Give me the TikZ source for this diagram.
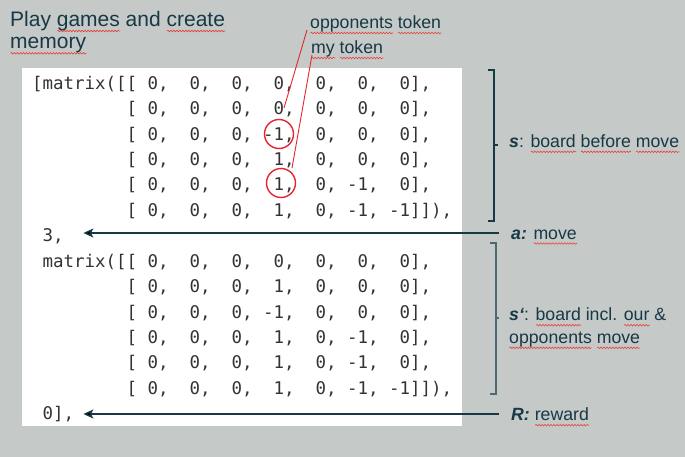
\documentclass[tikz,border=0pt]{standalone}
\usepackage{fontspec}
\setmainfont{Liberation Sans}
\newfontfamily\codefont{DejaVu Sans Mono}[WordSpace={1,0,0}]
\usetikzlibrary{arrows.meta,calc,decorations.pathmorphing}

\definecolor{bg}{HTML}{C5CAC8}
\definecolor{ink}{HTML}{173845}
\definecolor{codeink}{HTML}{333333}
\definecolor{mark}{HTML}{E5252F}
\definecolor{squig}{HTML}{E8413C}
\definecolor{bracetwo}{HTML}{4F6973}

% red wavy underline for flagged words
\newlength\spellwd
\newcommand\spell[1]{\settowidth\spellwd{#1}%
  \rlap{\tikz[x=1pt,y=1pt,baseline=0pt]
    \draw[squig, line width=0.6pt, decorate,
          decoration={snake, amplitude=0.8pt, segment length=3pt}]
      (0pt,-4.5pt) -- (\spellwd,-4.5pt);}#1}

\tikzset{
  title/.style={anchor=base west, inner sep=0pt, text=ink, font=\fontsize{21}{22.3}\selectfont},
  lbl/.style={anchor=base west, inner sep=0pt, text=ink, font=\fontsize{17.7}{22.6}\selectfont},
  code/.style={anchor=base west, inner sep=0pt, text=codeink, font=\codefont\fontsize{17.44}{25.4}\selectfont},
  ring/.style={draw=mark, line width=1.4pt, circle, minimum size=29pt, inner sep=0pt},
  pointer/.style={draw=mark, line width=0.9pt},
  arr/.style={draw=ink, line width=1.3pt, -{Stealth[length=10pt,width=9pt,inset=2.5pt]}},
  brk/.style={line width=1.2pt},
}

\begin{document}
\begin{tikzpicture}[x=1pt,y=-1pt]
\useasboundingbox (0,0) rectangle (685,457);
\fill[bg] (0,0) rectangle (685,457);

% code panel
\fill[white] (22,68) rectangle (462,426);

% title
\node[title] (title1) at (10,26.5) {Play \spell{games} and \spell{create}};
\node[title] (title2) at (10,48.8) {\spell{memory}};

% printed memory entry
\node[code] (c0)  at (32,89.4)  {[matrix([[~0,~~0,~~0,~~0,~~0,~~0,~~0],};
\node[code] (c1)  at (32,114.8) {~~~~~~~~~[~0,~~0,~~0,~~0,~~0,~~0,~~0],};
\node[code] (c2)  at (32,140.2) {~~~~~~~~~[~0,~~0,~~0,~-1,~~0,~~0,~~0],};
\node[code] (c3)  at (32,165.6) {~~~~~~~~~[~0,~~0,~~0,~~1,~~0,~~0,~~0],};
\node[code] (c4)  at (32,191.0) {~~~~~~~~~[~0,~~0,~~0,~~1,~~0,~-1,~~0],};
\node[code] (c5)  at (32,216.4) {~~~~~~~~~[~0,~~0,~~0,~~1,~~0,~-1,~-1]]),};
\node[code] (three) at (32,241.8) {~3,};
\node[code] (c7)  at (32,267.2) {~matrix([[~0,~~0,~~0,~~0,~~0,~~0,~~0],};
\node[code] (c8)  at (32,292.6) {~~~~~~~~~[~0,~~0,~~0,~~1,~~0,~~0,~~0],};
\node[code] (c9)  at (32,318.0) {~~~~~~~~~[~0,~~0,~~0,~-1,~~0,~~0,~~0],};
\node[code] (c10) at (32,343.4) {~~~~~~~~~[~0,~~0,~~0,~~1,~~0,~-1,~~0],};
\node[code] (c11) at (32,368.8) {~~~~~~~~~[~0,~~0,~~0,~~1,~~0,~-1,~~0],};
\node[code] (c12) at (32,394.2) {~~~~~~~~~[~0,~~0,~~0,~~1,~~0,~-1,~-1]]),};
\node[code] (zero) at (32,419.6) {~0],};

% token markers
\node[ring] (opp ring) at (279,134) {};
\node[ring] (mine ring) at (281,183) {};
\node[lbl] (opp) at (310,28.5) {\spell{opponents} \spell{token}};
\node[lbl] (mine) at (311,53.5) {\spell{my} \spell{token}};
\coordinate (opp start) at (307,30);
\coordinate (opp end) at (284,108);
\coordinate (mine start) at (312,55);
\coordinate (mine end) at (292,168);
\draw[pointer] (opp start) -- (opp end);
\draw[pointer] (mine start) -- (mine end);

% brackets and their labels
\draw[brk, draw=ink] (488,70) -- (494,70) -- (494,221) -- (488,221);
\draw[brk, draw=ink] (494,145) -- (498,145);
\node[lbl] (slab) at (509,147.3) {\textbf{\textit{s}}: \spell{board} \spell{before} \spell{move}};

\draw[brk, draw=bracetwo] (490,243) -- (496,243) -- (496,394) -- (490,394);
\draw[brk, draw=bracetwo] (496,318) -- (499,318);
\node[lbl] (splab1) at (509,320.7) {\textbf{\textit{s‘}}: \spell{board} incl. \spell{our} \&};
\node[lbl] (splab2) at (509,343.3) {\spell{opponents} \spell{move}};

% move and reward arrows
\node[lbl] (alab) at (511,239) {\textbf{\textit{a:}} \spell{move}};
\node[lbl] (rlab) at (511,420.7) {\textbf{\textit{R:}} \spell{reward}};
\coordinate (a tail) at ($(alab.base west)+(-12,-6)$);
\coordinate (r tail) at ($(rlab.base west)+(-12,-6.7)$);
\draw[arr] (a tail) -- ($(a tail -| three.east)+(19.5,0)$);
\draw[arr] (r tail) -- ($(r tail -| zero.east)+(9,0)$);
\end{tikzpicture}
\end{document}
